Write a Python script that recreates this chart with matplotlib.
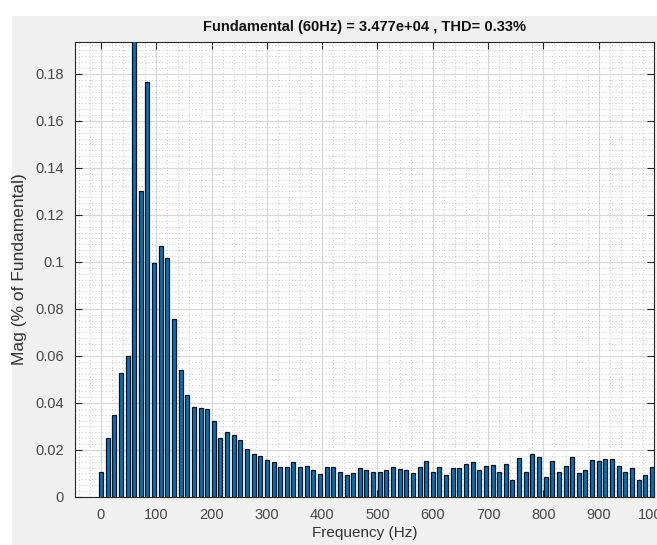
import matplotlib.pyplot as plt
import numpy as np
from matplotlib.patches import Rectangle
from matplotlib.ticker import MultipleLocator

# harmonic spectrum, 12 Hz resolution (5 cycles of 60 Hz)
freqs = np.arange(84) * 12
mags = [0.0106, 0.0249, 0.0349, 0.0527, 0.0600, 100.0, 0.1300, 0.1767, 0.0997, 0.1069,
        0.1016, 0.0757, 0.0541, 0.0436, 0.0384, 0.0380, 0.0375, 0.0325, 0.0249, 0.0275,
        0.0262, 0.0243, 0.0203, 0.0183, 0.0174, 0.0158, 0.0148, 0.0128, 0.0128, 0.0148,
        0.0128, 0.0132, 0.0113, 0.0097, 0.0128, 0.0128, 0.0107, 0.0093, 0.0101, 0.0124,
        0.0117, 0.0107, 0.0107, 0.0117, 0.0128, 0.0119, 0.0117, 0.0101, 0.0128, 0.0154,
        0.0107, 0.0128, 0.0093, 0.0123, 0.0123, 0.0142, 0.0148, 0.0113, 0.0132, 0.0138,
        0.0107, 0.0142, 0.0072, 0.0168, 0.0107, 0.0183, 0.0172, 0.0083, 0.0154, 0.0107,
        0.0132, 0.0172, 0.0101, 0.0113, 0.0158, 0.0152, 0.0162, 0.0162, 0.0132, 0.0107,
        0.0123, 0.0072, 0.0093, 0.0128]
xticks = np.arange(0, 1001, 100)
yticks = np.arange(0, 0.181, 0.02)
yticklabels = ['0', '0.02', '0.04', '0.06', '0.08', '0.1', '0.12', '0.14', '0.16', '0.18']
title = 'Fundamental (60Hz) = 3.477e+04 , THD= 0.33%'

fam = ['Liberation Sans', 'DejaVu Sans']
txt = '#262626'

fig = plt.figure(figsize=(6.57, 5.45), dpi=100, facecolor='white')
# grey figure panel of the screenshot
fig.patches.append(Rectangle((12 / 657, 0), 1, 1 - 16 / 545, transform=fig.transFigure,
                             facecolor='#f0f0f0', edgecolor='none', zorder=-10))

ax = fig.add_axes([75 / 657, 48 / 545, 579 / 657, 455 / 545])
ax.set_facecolor('white')
ax.bar(freqs, mags, width=7.2, color='#0072BD', edgecolor='#111111', linewidth=0.9, zorder=3)

ax.set_xlim(-47, 1000)
ax.set_ylim(0, 0.1936)
ax.set_xticks(xticks)
ax.set_yticks(yticks)
ax.set_yticklabels(yticklabels)
ax.xaxis.set_minor_locator(MultipleLocator(20))
ax.yaxis.set_minor_locator(MultipleLocator(0.0025))

ax.grid(which='major', color='#d8d8d8', linewidth=0.9, linestyle='-', zorder=0)
ax.grid(which='minor', color='#b8b8b8', linewidth=0.6, linestyle=(0, (1, 3)), zorder=0)
ax.set_axisbelow(True)

ax.tick_params(which='major', direction='in', length=5, width=0.8, color=txt,
               top=True, right=True, labelsize=10.5, labelcolor='#474747', pad=8)
ax.tick_params(which='minor', length=0)
for lab in ax.get_xticklabels() + ax.get_yticklabels():
    lab.set_family(fam)
for s in ax.spines.values():
    s.set_color(txt)
    s.set_linewidth(0.8)

ax.set_xlabel('Frequency (Hz)', fontsize=11, color='#333333', family=fam, labelpad=3)
ax.set_ylabel('Mag (% of Fundamental)', fontsize=12.5, color='#333333', family=fam, labelpad=6)
ax.set_title(title, fontsize=10.5, color='#111111', family=fam, fontweight='bold', pad=8)

fig.savefig('out.png', dpi=100, facecolor=fig.get_facecolor())
